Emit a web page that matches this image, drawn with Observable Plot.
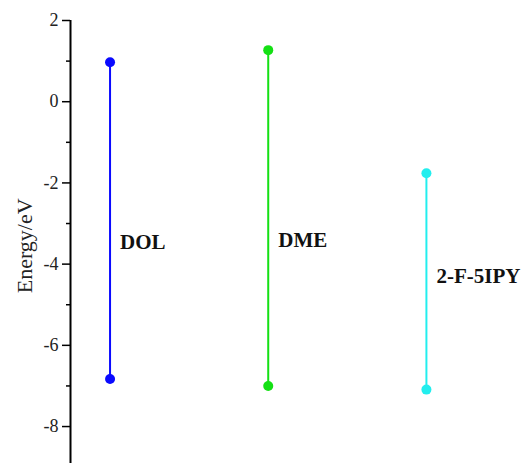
<!DOCTYPE html>
<html>
<head>
<meta charset="utf-8">
<script src="https://cdn.jsdelivr.net/npm/d3@7"></script>
<script src="https://cdn.jsdelivr.net/npm/@observablehq/plot@0.6"></script>
<style>
  html, body { margin: 0; padding: 0; background: #fff; }
  #chart svg { display: block; }
</style>
</head>
<body>
<div id="chart"></div>
<script>
const solvents = ["DOL", "DME", "2-F-5IPY"];
const positions = [1, 2, 3];
const lumo = [0.97, 1.27, -1.76];
const homo = [-6.83, -7.0, -7.09];
const labelY = [-3.47, -3.42, -4.30];
const colors = ["#0a0aff", "#14e014", "#22eeee"];
const majorTicks = [2, 0, -2, -4, -6, -8];
const minorTicks = [1, -1, -3, -5, -7];
const yLabel = "Energy/eV";

const rows = solvents.map((s, i) => ({
  name: s, x: positions[i], lumo: lumo[i], homo: homo[i], ly: labelY[i], color: colors[i]
}));
const points = rows.flatMap(d => [{x: d.x, y: d.lumo, color: d.color}, {x: d.x, y: d.homo, color: d.color}]);

const yMin = -8.91, yMax = 2;
const serif = "'Liberation Serif', 'Times New Roman', serif";

const plot = Plot.plot({
  width: 528,
  height: 463,
  marginLeft: 70,
  marginRight: 23,
  marginTop: 20,
  marginBottom: 0,
  style: {fontFamily: serif, fontSize: "18px", background: "#fff", color: "#000"},
  x: {domain: [0.75, 3.5], axis: null},
  y: {domain: [yMin, yMax]},
  marks: [
    Plot.ruleX([0.75], {y1: yMin, y2: yMax, stroke: "#000", strokeWidth: 2}),
    Plot.axisY({ticks: majorTicks, tickSize: 8, tickPadding: 4, tickFormat: d => d < 0 ? "-" + Math.abs(d) : String(d), stroke: "#000", strokeWidth: 1.5, label: null, fontSize: 18, fill: "#222"}),
    Plot.axisY({ticks: minorTicks, tickSize: 4, text: null, stroke: "#000", strokeWidth: 1.5, label: null}),
    Plot.text([yLabel], {x: 0.75, y: -3.55, dx: -46, rotate: -90, textAnchor: "middle", fontSize: 22, fill: "#222"}),
    Plot.ruleX(rows, {x: "x", y1: "homo", y2: "lumo", stroke: "color", strokeWidth: 2}),
    Plot.dot(points, {x: "x", y: "y", r: 5, fill: "color", stroke: "none"}),
    Plot.text(rows, {x: "x", y: "ly", text: "name", textAnchor: "start", dx: 10, fontSize: 21, fontWeight: "bold", fill: "#111"})
  ]
});
document.getElementById("chart").appendChild(plot);
</script>
</body>
</html>
